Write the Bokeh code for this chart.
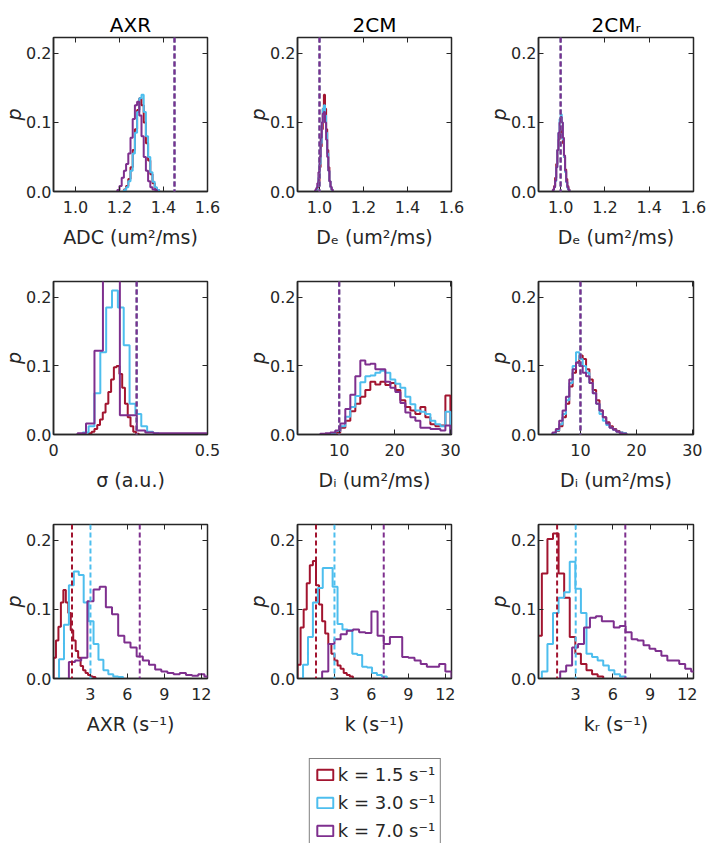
import numpy as np
from bokeh.embed import file_html
from bokeh.layouts import column, row
from bokeh.models import (FixedTicker, Legend, LegendItem, LinearAxis,
                          NumeralTickFormatter, Range1d, Span)
from bokeh.plotting import figure
from bokeh.resources import INLINE

# three simulated exchange rates, one colour each
COLORS = ["#A2142F", "#4DBEEE", "#7E2F8E"]
LABELS = ["k = 1.5 s⁻¹", "k = 3.0 s⁻¹", "k = 7.0 s⁻¹"]
MODELS = ["AXR", "2CM", "2CMᵣ"]
K_TRUE = [1.5, 3.0, 7.0]

# histograms: first bin edge per series, bin width, probabilities per bin
# (series order: k = 1.5, 3.0, 7.0)
ADC_AXR_START = [1.22, 1.22, 1.19]
ADC_AXR_BIN = 0.01
ADC_AXR = [
    [0.003, 0.008, 0.018, 0.035, 0.06, 0.09, 0.118, 0.135, 0.125, 0.1, 0.07, 0.045, 0.025, 0.012, 0.005, 0.002],
    [0.002, 0.006, 0.015, 0.03, 0.055, 0.085, 0.115, 0.135, 0.14, 0.115, 0.08, 0.05, 0.028, 0.014, 0.006, 0.002],
    [0.002, 0.008, 0.02, 0.03, 0.04, 0.055, 0.078, 0.105, 0.125, 0.13, 0.11, 0.08, 0.05, 0.03, 0.015, 0.006, 0.003, 0.002],
]
ADC_TRUE = [1.45, 1.45, 1.45]

DE_2CM_START = [0.985, 0.985, 0.98]
DE_2CM_BIN = 0.005
DE_2CM = [
    [0.002, 0.006, 0.015, 0.035, 0.065, 0.09, 0.12, 0.14, 0.12, 0.09, 0.06, 0.035, 0.015, 0.006, 0.002],
    [0.003, 0.008, 0.02, 0.04, 0.07, 0.1, 0.12, 0.125, 0.11, 0.085, 0.055, 0.03, 0.015, 0.006, 0.002],
    [0.002, 0.005, 0.012, 0.028, 0.05, 0.078, 0.1, 0.113, 0.115, 0.1, 0.075, 0.05, 0.03, 0.015, 0.007, 0.003],
]

DE_2CMR_START = [0.965, 0.965, 0.965]
DE_2CMR_BIN = 0.005
DE_2CMR = [
    [0.003, 0.008, 0.02, 0.04, 0.06, 0.075, 0.085, 0.088, 0.085, 0.07, 0.05, 0.032, 0.018, 0.008, 0.003],
    [0.002, 0.006, 0.015, 0.035, 0.06, 0.085, 0.105, 0.112, 0.1, 0.075, 0.05, 0.028, 0.013, 0.005, 0.002],
    [0.002, 0.006, 0.016, 0.035, 0.06, 0.085, 0.1, 0.108, 0.1, 0.078, 0.052, 0.03, 0.014, 0.006, 0.002],
]
DE_TRUE = [1.0, 1.0, 1.0]

SIGMA_START = [0.115, 0.095, 0.078]
SIGMA_BIN = [0.009, 0.019, 0.0275]
SIGMA = [
    [0.002, 0.004, 0.008, 0.014, 0.022, 0.032, 0.045, 0.062, 0.08, 0.098, 0.1, 0.088, 0.068, 0.045, 0.025, 0.012, 0.004, 0.001],
    [0.003, 0.012, 0.06, 0.12, 0.185, 0.21, 0.185, 0.13, 0.045, 0.03, 0.012, 0.004, 0.002],
    [0.002, 0.016, 0.122, 0.34, 0.41, 0.028, 0.028, 0.006, 0.003, 0.002, 0.002, 0.002, 0.002, 0.002, 0.002, 0.002],
]
SIGMA_TRUE = [0.27, 0.27, 0.27]

DI_2CM_START = [9.3, 8.4, 6.6]
DI_2CM_BIN = 0.9
DI_2CM = [
    [0.003, 0.01, 0.02, 0.034, 0.045, 0.055, 0.065, 0.077, 0.073, 0.077, 0.072, 0.075, 0.065, 0.05, 0.04,
     0.035, 0.03, 0.04, 0.025, 0.015, 0.012, 0.013, 0.057],
    [0.002, 0.005, 0.012, 0.026, 0.04, 0.056, 0.076, 0.085, 0.086, 0.09, 0.093, 0.09, 0.08, 0.074, 0.068,
     0.055, 0.044, 0.035, 0.033, 0.03, 0.02, 0.015, 0.012, 0.033],
    [0.001, 0.002, 0.003, 0.006, 0.016, 0.037, 0.058, 0.085, 0.108, 0.102, 0.103, 0.095, 0.095, 0.077, 0.068,
     0.062, 0.046, 0.032, 0.025, 0.02, 0.01, 0.01, 0.008, 0.008, 0.006, 0.013],
]

DI_2CMR_START = [5.0, 5.0, 5.0]
DI_2CMR_BIN = 0.6
DI_2CMR = [
    [0.002, 0.005, 0.012, 0.025, 0.045, 0.07, 0.09, 0.105, 0.115, 0.11, 0.095, 0.08, 0.065, 0.05, 0.035,
     0.025, 0.018, 0.012, 0.008, 0.005, 0.003, 0.002],
    [0.002, 0.006, 0.015, 0.03, 0.05, 0.075, 0.1, 0.12, 0.11, 0.1, 0.09, 0.075, 0.06, 0.045, 0.03,
     0.02, 0.014, 0.01, 0.007, 0.004, 0.003, 0.002],
    [0.003, 0.008, 0.02, 0.035, 0.055, 0.08, 0.095, 0.105, 0.1, 0.09, 0.085, 0.075, 0.06, 0.045, 0.035,
     0.025, 0.016, 0.01, 0.007, 0.004, 0.002, 0.001],
]
DI_TRUE = [10.0, 10.0, 10.0]

AXR_START = [0.0, 0.45, 1.25]
AXR_BIN = [0.2, 0.4, 0.5]
AXR = [
    [0.03, 0.055, 0.075, 0.11, 0.128, 0.11, 0.095, 0.07, 0.055, 0.04, 0.03, 0.018, 0.012, 0.008, 0.005, 0.003, 0.002],
    [0.028, 0.078, 0.135, 0.155, 0.15, 0.11, 0.083, 0.05, 0.027, 0.012, 0.006, 0.003, 0.002],
    [0.024, 0.026, 0.03, 0.112, 0.129, 0.133, 0.103, 0.093, 0.062, 0.052, 0.045, 0.032, 0.026, 0.02, 0.013,
     0.01, 0.008, 0.006, 0.008, 0.005, 0.004, 0.006, 0.003],
]

K_2CM_START = [0.0, 0.45, 2.0]
K_2CM_BIN = [0.25, 0.4, 0.5]
K_2CM = [
    [0.02, 0.074, 0.1, 0.138, 0.164, 0.17, 0.135, 0.107, 0.083, 0.065, 0.05, 0.036, 0.026, 0.019, 0.014, 0.008, 0.005, 0.003],
    [0.02, 0.06, 0.11, 0.131, 0.16, 0.16, 0.133, 0.079, 0.071, 0.07, 0.036, 0.034, 0.017, 0.016, 0.008, 0.005, 0.003],
    [0.01, 0.05, 0.057, 0.064, 0.069, 0.071, 0.067, 0.066, 0.097, 0.062, 0.05, 0.06, 0.06, 0.031, 0.03,
     0.026, 0.021, 0.017, 0.017, 0.021, 0.01],
]

KR_2CMR_START = [-0.18, 0.27, 1.75]
KR_2CMR_BIN = [0.45, 0.45, 0.48]
KR_2CMR = [
    [0.062, 0.152, 0.202, 0.21, 0.152, 0.117, 0.06, 0.036, 0.021, 0.012, 0.006, 0.003],
    [0.01, 0.05, 0.095, 0.117, 0.125, 0.169, 0.13, 0.095, 0.036, 0.031, 0.026, 0.019, 0.012, 0.006, 0.003],
    [0.01, 0.019, 0.045, 0.05, 0.074, 0.088, 0.09, 0.083, 0.083, 0.074, 0.076, 0.067, 0.057, 0.055, 0.048,
     0.043, 0.04, 0.033, 0.026, 0.026, 0.021, 0.014, 0.01],
]

Y_TICKS = [0.0, 0.1, 0.2]
Y_MAX = 0.223

FONT = "DejaVu Sans"
INK = "#262626"

# outer sizes of the grid cells (page has no margin)
COL_W = [244, 241, 222]
COL_R = [37, 34, 14]
ROW_H = [253, 243, 244]
ROW_T = [37, 28, 28]
ROW_B = [62, 62, 62]
LEFT = 53


def as_list(v):
    return v if isinstance(v, list) else [v, v, v]


PANELS = [
    [
        dict(h=ADC_AXR, start=ADC_AXR_START, bin=ADC_AXR_BIN, truth=ADC_TRUE, xr=(0.9, 1.6),
             ticks=[1.0, 1.2, 1.4, 1.6], fmt="0.0", label="ADC (um²/ms)"),
        dict(h=DE_2CM, start=DE_2CM_START, bin=DE_2CM_BIN, truth=DE_TRUE, xr=(0.9, 1.6),
             ticks=[1.0, 1.2, 1.4, 1.6], fmt="0.0", label="Dₑ (um²/ms)"),
        dict(h=DE_2CMR, start=DE_2CMR_START, bin=DE_2CMR_BIN, truth=DE_TRUE, xr=(0.9, 1.6),
             ticks=[1.0, 1.2, 1.4, 1.6], fmt="0.0", label="Dₑ (um²/ms)"),
    ],
    [
        dict(h=SIGMA, start=SIGMA_START, bin=SIGMA_BIN, truth=SIGMA_TRUE, xr=(0.0, 0.5),
             ticks=[0.0, 0.5], fmt="0.[0]", label="σ (a.u.)"),
        dict(h=DI_2CM, start=DI_2CM_START, bin=DI_2CM_BIN, truth=DI_TRUE, xr=(2.5, 30.2),
             ticks=[10, 20, 30], fmt="0", label="Dᵢ (um²/ms)"),
        dict(h=DI_2CMR, start=DI_2CMR_START, bin=DI_2CMR_BIN, truth=DI_TRUE, xr=(2.5, 30.2),
             ticks=[10, 20, 30], fmt="0", label="Dᵢ (um²/ms)"),
    ],
    [
        dict(h=AXR, start=AXR_START, bin=AXR_BIN, truth=K_TRUE, xr=(0.0, 12.5),
             ticks=[3, 6, 9, 12], fmt="0", label="AXR (s⁻¹)"),
        dict(h=K_2CM, start=K_2CM_START, bin=K_2CM_BIN, truth=K_TRUE, xr=(0.0, 12.5),
             ticks=[3, 6, 9, 12], fmt="0", label="k (s⁻¹)"),
        dict(h=KR_2CMR, start=KR_2CMR_START, bin=KR_2CMR_BIN, truth=K_TRUE, xr=(0.0, 12.5),
             ticks=[3, 6, 9, 12], fmt="0", label="kᵣ (s⁻¹)"),
    ],
]


def stairs(start, width, probs):
    edges = start + width * np.arange(len(probs) + 1)
    x = np.concatenate([[edges[0]], edges])
    y = np.concatenate([[0.0], probs, [0.0]])
    return x, y


def frame_axis(ticks):
    # tick marks only, for the top and right edges of the box
    return LinearAxis(ticker=FixedTicker(ticks=ticks), major_label_text_color=None,
                      major_label_text_font_size="1px", major_label_standoff=0,
                      major_tick_in=5, major_tick_out=0, minor_tick_in=0, minor_tick_out=0,
                      axis_line_color=None, major_tick_line_color=INK, major_tick_line_width=1)


def make_panel(spec, r, c):
    p = figure(width=COL_W[c], height=ROW_H[r],
               x_range=Range1d(*spec["xr"]), y_range=Range1d(0, Y_MAX),
               title=MODELS[c] if r == 0 else None,
               min_border_left=LEFT, min_border_right=COL_R[c],
               min_border_top=ROW_T[r], min_border_bottom=ROW_B[r],
               output_backend="svg", toolbar_location=None)
    p.grid.visible = False
    p.outline_line_color = INK
    p.outline_line_width = 1.5
    p.outline_line_alpha = 1.0
    if r == 0:
        p.title.align = "center"
        p.title.text_font = FONT
        p.title.text_font_size = "20px"
        p.title.text_font_style = "normal"
        p.title.text_color = "black"
        p.title.standoff = 2

    p.xaxis.ticker = FixedTicker(ticks=spec["ticks"])
    p.xaxis.formatter = NumeralTickFormatter(format=spec["fmt"])
    p.xaxis.axis_label = spec["label"]
    p.yaxis.ticker = FixedTicker(ticks=Y_TICKS)
    p.yaxis.formatter = NumeralTickFormatter(format="0.0")
    p.yaxis.axis_label = "p"
    p.yaxis.axis_label_text_font_style = "italic"
    for ax in (p.xaxis, p.yaxis):
        ax.major_tick_in = 5
        ax.major_tick_out = 0
        ax.minor_tick_in = 0
        ax.minor_tick_out = 0
        ax.axis_line_color = INK
        ax.axis_line_width = 1.5
        ax.major_tick_line_color = INK
        ax.major_label_text_font = FONT
        ax.major_label_text_font_size = "16px"
        ax.major_label_text_color = INK
        ax.axis_label_text_font = FONT
        ax.axis_label_text_font_size = "19px"
        ax.axis_label_text_color = INK
    p.xaxis.major_label_standoff = 9
    p.xaxis.axis_label_standoff = 10
    p.yaxis.major_label_standoff = 2
    p.yaxis.axis_label_standoff = -2
    p.xaxis.axis_label_text_font_style = "normal"

    p.add_layout(frame_axis(spec["ticks"]), "above")
    p.add_layout(frame_axis(Y_TICKS), "right")

    starts = as_list(spec["start"])
    bins = as_list(spec["bin"])
    for probs, s, w, color in zip(spec["h"], starts, bins, COLORS):
        x, y = stairs(s, w, probs)
        p.step(x, y, mode="after", line_color=color, line_width=2)
    for t, color in zip(spec["truth"], COLORS):
        p.add_layout(Span(location=t, dimension="height", line_color=color,
                          line_width=2, line_dash="5 3"))
    return p


rows = []
for r, specs in enumerate(PANELS):
    rows.append(row([make_panel(spec, r, c) for c, spec in enumerate(specs)]))

# legend strip below the grid, centred under the middle column
lf = figure(width=sum(COL_W), height=103, x_range=Range1d(0, 1), y_range=Range1d(0, 1),
            x_axis_location=None, y_axis_location=None,
            min_border_left=43, min_border_right=0, min_border_top=18, min_border_bottom=0,
            output_backend="svg", toolbar_location=None)
lf.grid.visible = False
lf.outline_line_color = None
items = []
for color, label in zip(COLORS, LABELS):
    # proxy glyph with no visible data, only used for the legend swatch
    rend = lf.quad(left=[np.nan], right=[np.nan], top=[np.nan], bottom=[np.nan],
                   fill_color=None, line_color=color, line_width=2)
    items.append(LegendItem(label=label, renderers=[rend]))
legend = Legend(items=items, location="top_center", margin=0, padding=5, spacing=7,
                border_line_color="black", border_line_width=1.5,
                label_text_font=FONT, label_text_font_size="18px", label_text_color=INK,
                glyph_width=20, glyph_height=13, label_standoff=3)
lf.add_layout(legend, "center")

layout = column(rows + [lf])
open("out.html", "w").write(file_html(layout, INLINE))
